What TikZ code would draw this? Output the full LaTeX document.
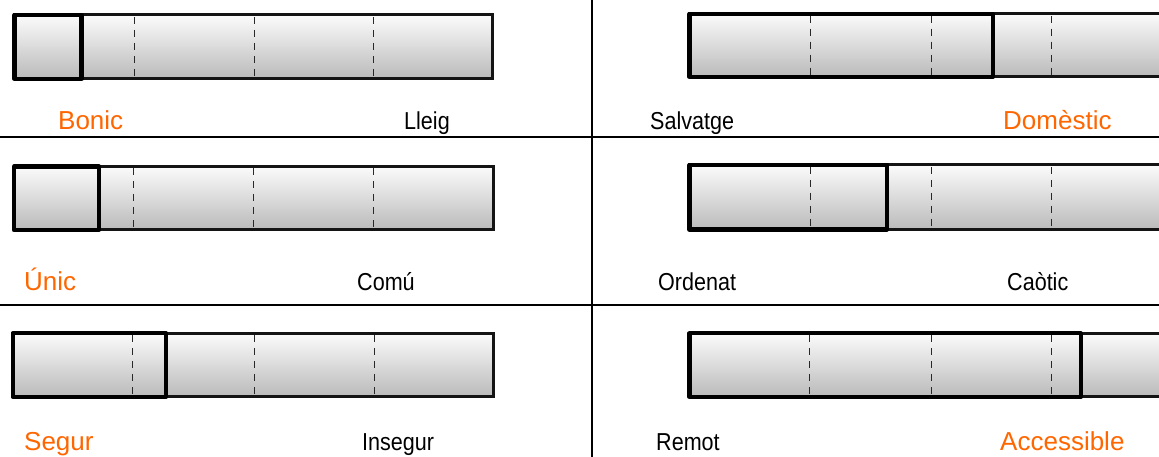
\documentclass[tikz,border=0pt]{standalone}
\usepackage{fontspec}
\setmainfont{Liberation Sans}
\newfontfamily\narrowfont[FakeStretch=0.88]{Liberation Sans}
\definecolor{labelorange}{RGB}{255,102,0}
\definecolor{bartop}{RGB}{251,251,251}
\definecolor{barbottom}{RGB}{186,186,186}
\definecolor{barframe}{RGB}{20,20,20}
\definecolor{dashgray}{RGB}{40,40,40}
\tikzset{
  barfill/.style={top color=bartop, bottom color=barbottom},
  barframestyle/.style={draw=barframe, line width=3bp},
  highlightframe/.style={draw=black, line width=4.2bp, line join=round},
  dividerline/.style={draw=dashgray, line width=1bp, dash pattern=on 7bp off 6bp},
  gridline/.style={draw=black, line width=2bp},
  poslabel/.style={anchor=base west, inner sep=0pt, text=labelorange, font=\fontsize{26bp}{30bp}\selectfont},
  neglabel/.style={anchor=base west, inner sep=0pt, text=black, font=\narrowfont\fontsize{24.5bp}{28bp}\selectfont},
}
% #1 x0, #2 y0, #3 x1, #4 y1, #5 highlight right edge, #6 #7 #8 dashed x positions
\newcommand\drawslider[8]{%
  \shade[barfill] (#1,#2) rectangle (#3,#4);
  \foreach \dx in {#6,#7,#8} {\draw[dividerline] (\dx,#2+2) -- (\dx,#4-2);}
  \draw[barframestyle] (#1,#2) rectangle (#3,#4);
  \draw[highlightframe] (#1,#2) rectangle (#5,#4);
}
\begin{document}
\begin{tikzpicture}[x=1bp,y=-1bp]
\useasboundingbox (0,0) rectangle (1159,457);
\clip (0,0) rectangle (1159,457);
\fill[white] (0,0) rectangle (1159,457);

% grid
\draw[gridline] (0,137) -- (1159,137);
\draw[gridline] (0,305) -- (1159,305);
\draw[gridline] (591.7,0) -- (591.7,457);

% left column sliders
\drawslider{14.5}{15}{492}{79}{81.5}{134.3}{254}{373}
\drawslider{14}{166.5}{493}{230}{99}{133.3}{253.5}{373}
\drawslider{12.7}{333.3}{493}{396.7}{166}{132.5}{254}{374}

% right column sliders
\drawslider{689.5}{13.7}{1167}{77}{992.7}{810}{931.7}{1051.7}
\drawslider{689.5}{165}{1167}{229.5}{887}{810}{931.7}{1051.7}
\drawslider{689.5}{333.3}{1167}{397}{1080.7}{809.5}{931.7}{1051.7}

% labels
\node[poslabel] (bonic) at (58,129.5) {Bonic};
\node[neglabel] (lleig) at (404,129.5) {Lleig};
\node[neglabel] (salvatge) at (650,129.5) {Salvatge};
\node[poslabel] (domestic) at (1003,129.5) {Domèstic};

\node[poslabel] (unic) at (24,290.5) {Únic};
\node[neglabel] (comu) at (357,290.5) {Comú};
\node[neglabel] (ordenat) at (658,290.5) {Ordenat};
\node[neglabel] (caotic) at (1007,290.5) {Caòtic};

\node[poslabel] (segur) at (24,450.5) {Segur};
\node[neglabel] (insegur) at (362,450.5) {Insegur};
\node[neglabel] (remot) at (656,450.5) {Remot};
\node[poslabel] (accessible) at (1000,450.5) {Accessible};
\end{tikzpicture}
\end{document}
